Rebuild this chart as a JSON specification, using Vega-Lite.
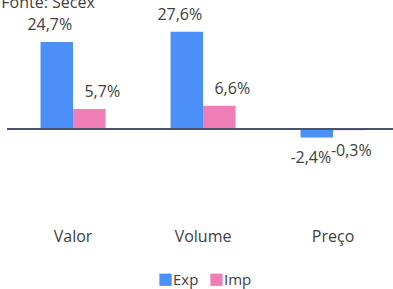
{
  "$schema": "https://vega.github.io/schema/vega-lite/v6.json",
  "autosize": "none",
  "width": 386,
  "height": 226,
  "padding": {"left": 7, "top": 2, "right": 0, "bottom": 61},
  "background": "white",
  "title": {"text": "Fonte: Secex", "anchor": "start", "frame": "bounds", "fontSize": 16, "font": "Open Sans", "fontWeight": "normal", "color": "#404040", "offset": 0, "dy": 9, "dx": -5},
  "config": {"view": {"stroke": null}, "font": "Open Sans"},
  "data": {"values": [
    {"cat": "Valor", "serie": "Exp", "v": 24.7, "label": "24,7%"},
    {"cat": "Valor", "serie": "Imp", "v": 5.7, "label": "5,7%"},
    {"cat": "Volume", "serie": "Exp", "v": 27.6, "label": "27,6%"},
    {"cat": "Volume", "serie": "Imp", "v": 6.6, "label": "6,6%"},
    {"cat": "Preço", "serie": "Exp", "v": -2.4, "label": "-2,4%"},
    {"cat": "Preço", "serie": "Imp", "v": -0.3, "label": "-0,3%"}
  ]},
  "encoding": {
    "x": {"field": "cat", "type": "nominal", "sort": ["Valor", "Volume", "Preço"],
      "scale": {"paddingInner": 0.5, "paddingOuter": 0.2346, "align": 0.55},
      "axis": {"title": null, "domain": false, "ticks": false, "labelAngle": 0, "labelFontSize": 16, "labelColor": "#404040", "labelPadding": 0, "labelFont": "Open Sans"}},
    "xOffset": {"field": "serie", "type": "nominal", "sort": ["Exp", "Imp"]},
    "y": {"field": "v", "type": "quantitative", "scale": {"domain": [-28, 36], "nice": false, "zero": false}, "axis": null}
  },
  "layer": [
    {
      "mark": {"type": "bar", "cornerRadius": 0},
      "encoding": {
        "color": {"field": "serie", "type": "nominal", "sort": ["Exp", "Imp"],
          "scale": {"domain": ["Exp", "Imp"], "range": ["#4b8ff8", "#ef7db6"]},
          "legend": {"title": null, "orient": "none", "legendX": 151, "legendY": 270, "direction": "horizontal", "symbolType": "square", "symbolSize": 150, "symbolStrokeWidth": 0, "symbolOpacity": 1, "labelFontSize": 15, "labelColor": "#404040", "labelFont": "Open Sans", "labelOffset": 0, "columnPadding": 10}}
      }
    },
    {
      "mark": {"type": "rule", "color": "#44546a", "strokeWidth": 1.5},
      "encoding": {"y": {"datum": 0}, "x": {"value": 0}, "x2": {"value": 390}, "xOffset": null}
    },
    {
      "transform": [{"filter": "datum.v >= 0 && datum.serie == 'Exp'"}],
      "mark": {"type": "text", "baseline": "alphabetic", "dy": -12, "dx": -7, "fontSize": 16, "color": "#404040", "font": "Open Sans"},
      "encoding": {"text": {"field": "label"}}
    },
    {
      "transform": [{"filter": "datum.v >= 0 && datum.serie == 'Imp'"}],
      "mark": {"type": "text", "baseline": "alphabetic", "dy": -12, "dx": 13, "fontSize": 16, "color": "#404040", "font": "Open Sans"},
      "encoding": {"text": {"field": "label"}}
    },
    {
      "transform": [{"filter": "datum.v < 0 && datum.serie == 'Exp'"}],
      "mark": {"type": "text", "baseline": "alphabetic", "dy": 25, "dx": -6, "fontSize": 16, "color": "#404040", "font": "Open Sans"},
      "encoding": {"text": {"field": "label"}}
    },
    {
      "transform": [{"filter": "datum.v < 0 && datum.serie == 'Imp'"}],
      "mark": {"type": "text", "baseline": "alphabetic", "dy": 26, "dx": 2, "fontSize": 16, "color": "#404040", "font": "Open Sans"},
      "encoding": {"text": {"field": "label"}}
    }
  ]
}
